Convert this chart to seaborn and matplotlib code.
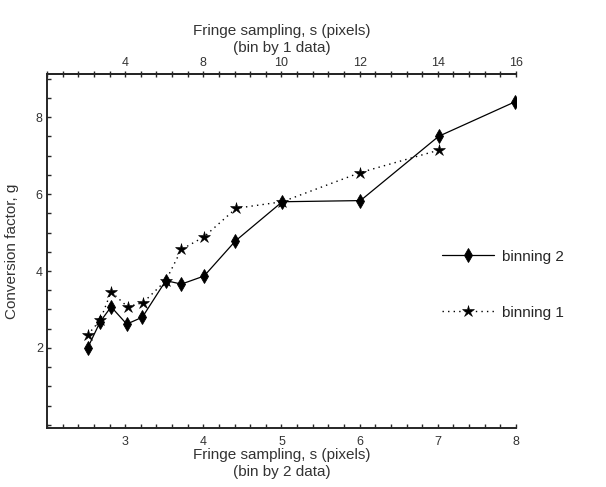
import pandas as pd
import matplotlib
matplotlib.use("Agg")
import matplotlib.pyplot as plt
import seaborn as sns
from matplotlib.ticker import MultipleLocator, FixedLocator

# values
bin2_x = [2.52, 2.68, 2.82, 3.02, 3.22, 3.52, 3.72, 4.01, 4.41, 5.01, 6.01, 7.01, 7.99]
bin2_y = [2.0, 2.68, 3.07, 2.62, 2.8, 3.75, 3.66, 3.87, 4.78, 5.8, 5.83, 7.5, 8.4]
bin1_x = [2.52, 2.68, 2.82, 3.03, 3.23, 3.52, 3.72, 4.01, 4.42, 5.01, 6.01, 7.01]
bin1_y = [2.34, 2.72, 3.46, 3.07, 3.18, 3.75, 4.56, 4.89, 5.63, 5.8, 6.56, 7.14]
top_ticks = [3, 4, 5, 6, 7, 8]
top_labels = ["4", "8", "10", "12", "14", "16"]

df2 = pd.DataFrame({"s": bin2_x, "g": bin2_y})
df1 = pd.DataFrame({"s": bin1_x, "g": bin1_y})

sns.set_style("ticks")
plt.rcParams["font.family"] = ["Liberation Sans", "DejaVu Sans"]

fig = plt.figure(figsize=(6.06, 4.87), dpi=100)
ax = fig.add_axes([47 / 606, 1 - 428 / 487, 469 / 606, 354 / 487])

sns.lineplot(data=df2, x="s", y="g", color="black", marker="d", markersize=7,
             markeredgecolor="black", markeredgewidth=0.6, linewidth=0.9,
             sort=False, label="binning 2", ax=ax)
sns.lineplot(data=df1, x="s", y="g", color="black", marker="*", markersize=9,
             markeredgecolor="black", markeredgewidth=0.4, linewidth=1.0,
             linestyle=(0, (1, 3)), sort=False, label="binning 1", ax=ax)

ax.set_xlim(2, 8)
ax.set_ylim(-0.08, 9.12)
ax.spines["right"].set_visible(False)
for sp in ["left", "bottom", "top"]:
    ax.spines[sp].set_linewidth(1.4)

ax.xaxis.set_major_locator(FixedLocator([3, 4, 5, 6, 7, 8]))
ax.xaxis.set_minor_locator(MultipleLocator(0.2))
ax.yaxis.set_major_locator(FixedLocator([2, 4, 6, 8]))
ax.yaxis.set_minor_locator(MultipleLocator(0.5))
ax.tick_params(axis="both", which="both", direction="in", length=3, width=1,
               labelsize=9, labelcolor="#333333", pad=3)
ax.tick_params(axis="x", pad=6)

top = ax.secondary_xaxis("top")
top.set_xticks(top_ticks)
top.set_xticklabels(top_labels)
top.xaxis.set_minor_locator(MultipleLocator(0.2))
top.tick_params(axis="x", which="both", direction="inout", length=5, width=1,
                labelsize=9, labelcolor="#333333", pad=1)
top.spines["top"].set_linewidth(1.4)
top.set_xlabel("Fringe sampling, s (pixels)\n(bin by 1 data)", fontsize=11,
               color="#333333", labelpad=4)

ax.set_xlabel("Fringe sampling, s (pixels)\n(bin by 2 data)", fontsize=11,
              color="#333333", labelpad=0)
ax.set_ylabel("Conversion factor, g", fontsize=11, color="#333333", labelpad=12)

handles, labels = ax.get_legend_handles_labels()
ax.legend(handles, labels, loc="center left", bbox_to_anchor=(0.83, 0.405),
          frameon=False, fontsize=11, handlelength=3.4, handletextpad=0.5,
          labelspacing=2.75, borderaxespad=0)

fig.savefig("out.png", dpi=100)
